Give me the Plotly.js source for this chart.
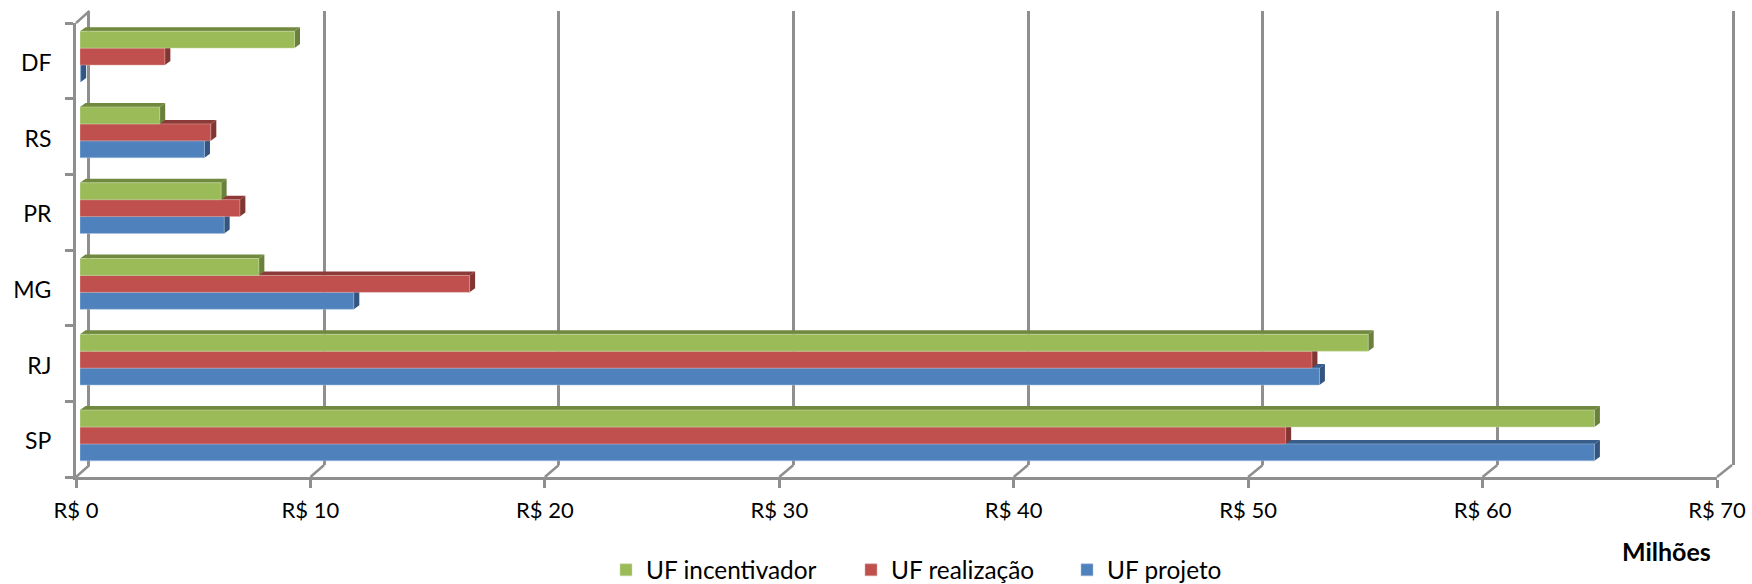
<!DOCTYPE html>
<html>
<head>
<meta charset="utf-8">
<script src="https://cdn.plot.ly/plotly-3.0.1.min.js"></script>
<style>html,body{margin:0;padding:0;background:#fff}#chart{width:1752px;height:584px}</style>
</head>
<body>
<div id="chart"></div>
<script>
const categories = ['SP', 'RJ', 'MG', 'PR', 'RS', 'DF'];
const ufProjeto = [64.6, 52.87, 11.68, 6.15, 5.31, 0.03];
const ufRealizacao = [51.43, 52.55, 16.62, 6.82, 5.58, 3.62];
const ufIncentivador = [64.6, 54.95, 7.63, 6.02, 3.4, 9.15];
const xTickValues = [0, 10, 20, 30, 40, 50, 60, 70];
const xTickLabels = ['R$ 0', 'R$ 10', 'R$ 20', 'R$ 30', 'R$ 40', 'R$ 50', 'R$ 60', 'R$ 70'];

const FONT = 'Lato, Carlito, Calibri, sans-serif';
const W = 1752, H = 584;
const M = {l: 76, r: 20, t: 11, b: 107};
const PW = W - M.l - M.r, PH = H - M.t - M.b;
const domX = (a, b) => [(a - M.l) / PW, (b - M.l) / PW];
const domY = (top, bot) => [(H - M.b - bot) / PH, (H - M.b - top) / PH];

const frontX = [76, 1717], frontY = [23, 477];
const backX = [89.5, 1732], backY = [11, 465];
const barX = [80, 1721], barY = [18.7, 473.3];
const xRange = [0, 70];
const pxPerX = (barX[1] - barX[0]) / xRange[1];
const pxPerCat = (barY[1] - barY[0]) / categories.length;
const bargap = 0.33;
const barThick = (1 - bargap) / 3;
const depthDX = 5.5 / pxPerX, depthDY = 4 / pxPerCat;
const GRID = '#8f8f8f';

const series = [
  {name: 'UF projeto', values: ufProjeto, color: '#4F81BD', top: '#385D8A', side: '#34557F', edge: '#A7C0DE', slot: 0, legend: 'legend'},
  {name: 'UF realização', values: ufRealizacao, color: '#C0504D', top: '#8C3A38', side: '#823634', edge: '#DFA8A6', slot: 1, legend: 'legend2'},
  {name: 'UF incentivador', values: ufIncentivador, color: '#9BBB59', top: '#71893F', side: '#6A813B', edge: '#CDDDAC', slot: 2, legend: 'legend3'}
];

const traces = [
  {type: 'bar', orientation: 'h', x: xTickValues, y: xTickValues.map(() => null), xaxis: 'x', yaxis: 'y', showlegend: false, hoverinfo: 'skip', marker: {opacity: 0}},
  {type: 'bar', orientation: 'h', x: categories.map(() => 0), y: categories, xaxis: 'x2', yaxis: 'y2', showlegend: false, hoverinfo: 'skip', marker: {opacity: 0}}
];
series.forEach(s => traces.push({
  type: 'bar', orientation: 'h', name: s.name, x: s.values, y: categories,
  xaxis: 'x3', yaxis: 'y3', legend: s.legend,
  marker: {color: s.color, line: {color: s.edge, width: 0.5}}
}));

const shapes = [];
series.forEach(s => {
  s.values.forEach((v, i) => {
    const top = i - 0.5 + bargap / 2 + barThick * (s.slot + 1);
    const bot = top - barThick;
    const xe = v;
    const up = top + depthDY;
    shapes.push({type: 'path', layer: 'below', xref: 'x3', yref: 'y3', line: {width: 0}, fillcolor: s.top,
      path: `M0,${top} L${depthDX},${up} L${xe + depthDX},${up} L${xe},${top} Z`});
    shapes.push({type: 'path', layer: 'below', xref: 'x3', yref: 'y3', line: {width: 0}, fillcolor: s.side,
      path: `M${xe},${top} L${xe + depthDX},${up} L${xe + depthDX},${bot + depthDY} L${xe},${bot} Z`});
  });
});
const paperX = px => (px - M.l) / PW;
const paperY = py => (H - M.b - py) / PH;
const scaleOf = pair => v => pair[0] + (pair[1] - pair[0]) * v / xRange[1];
const frontPx = scaleOf(frontX), backPx = scaleOf(backX);
const connector = (v, fy, by) => ({
  type: 'line', layer: 'below', xref: 'paper', yref: 'paper',
  x0: paperX(frontPx(v)), x1: paperX(backPx(v)), y0: paperY(fy), y1: paperY(by),
  line: {color: GRID, width: 2.5}
});
xTickValues.forEach(v => shapes.push(connector(v, frontY[1], backY[1])));
shapes.push(connector(xRange[0], frontY[0], backY[0]));

const hidden = {showgrid: false, zeroline: false, showline: false, showticklabels: false, ticks: ''};
const legendBase = {orientation: 'h', yanchor: 'middle', xanchor: 'left', xref: 'container', yref: 'container', bgcolor: 'rgba(0,0,0,0)',
  font: {family: FONT, size: 24.4, color: '#000'}, itemclick: false, itemdoubleclick: false};
const legY = 1 - 570 / H;
const legendX = px => px / W;

const layout = {
  width: W, height: H, margin: {l: M.l, r: M.r, t: M.t, b: M.b, pad: 0},
  paper_bgcolor: '#fff', plot_bgcolor: 'rgba(0,0,0,0)',
  barmode: 'group', bargap: bargap, bargroupgap: 0,
  font: {family: FONT, size: 22, color: '#000'},
  xaxis: {...hidden, domain: domX(backX[0], backX[1]), range: xRange, tickmode: 'array', tickvals: xTickValues, showgrid: true, gridcolor: GRID, gridwidth: 3, anchor: 'y', fixedrange: true},
  yaxis: {...hidden, domain: domY(backY[0], backY[1]), range: [0, 1], showline: true, mirror: true, linecolor: GRID, linewidth: 3, anchor: 'x', fixedrange: true},
  xaxis2: {domain: domX(frontX[0], frontX[1]), range: xRange, anchor: 'y2', tickmode: 'array', tickvals: xTickValues, ticktext: xTickLabels,
    showgrid: false, zeroline: false, showline: true, linecolor: GRID, linewidth: 3, ticks: 'outside', ticklen: 8, tickwidth: 3, tickcolor: GRID,
    ticklabelstandoff: 4, tickfont: {family: FONT, size: 22, color: '#000'}, fixedrange: true},
  yaxis2: {domain: domY(frontY[0], frontY[1]), type: 'category', categoryorder: 'array', categoryarray: categories, range: [-0.5, 5.5], anchor: 'x2',
    tickson: 'boundaries', showgrid: false, zeroline: false, showline: true, linecolor: GRID, linewidth: 3, ticks: 'outside', ticklen: 8, tickwidth: 3, tickcolor: GRID,
    ticklabelstandoff: 17, ticklabelshift: 2, tickfont: {family: FONT, size: 23, color: '#000'}, fixedrange: true},
  xaxis3: {...hidden, domain: domX(barX[0], barX[1]), range: xRange, anchor: 'y3', fixedrange: true},
  yaxis3: {...hidden, domain: domY(barY[0], barY[1]), type: 'category', categoryorder: 'array', categoryarray: categories, range: [-0.5, 5.5], anchor: 'x3', fixedrange: true},
  shapes: shapes,
  legend: {...legendBase, x: legendX(1067), y: legY},
  legend2: {...legendBase, x: legendX(851), y: legY},
  legend3: {...legendBase, x: legendX(606), y: legY},
  annotations: [{text: '<b>Milhões</b>', xref: 'paper', yref: 'paper', x: paperX(1666), y: paperY(551), xanchor: 'center', yanchor: 'middle', showarrow: false,
    font: {family: FONT, size: 25, color: '#000'}}]
};
Plotly.newPlot('chart', traces, layout, {displayModeBar: false, staticPlot: true});
</script>
</body>
</html>
